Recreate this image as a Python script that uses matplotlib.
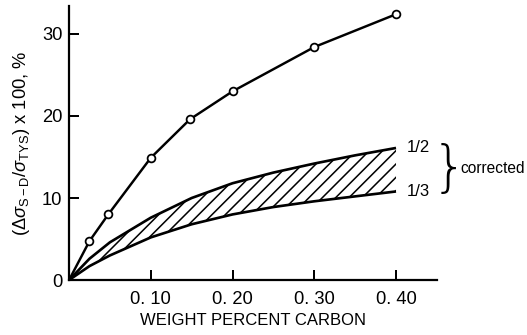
import matplotlib
matplotlib.use("Agg")
import matplotlib.pyplot as plt

carbon_pts = [0.0, 0.025, 0.048, 0.10, 0.148, 0.20, 0.30, 0.40]
uncorrected = [0.0, 4.75, 8.0, 14.9, 19.6, 23.0, 28.4, 32.4]

band_x = [0.0, 0.025, 0.05, 0.10, 0.15, 0.20, 0.25, 0.30, 0.35, 0.40]
half = [0.0, 2.6, 4.6, 7.6, 10.0, 11.8, 13.1, 14.2, 15.2, 16.1]
third = [0.0, 1.7, 3.0, 5.2, 6.8, 8.0, 8.9, 9.6, 10.2, 10.8]

xticks = [0.10, 0.20, 0.30, 0.40]
xticklabels = ["0. 10", "0. 20", "0. 30", "0. 40"]
yticks = [0, 10, 20, 30]

plt.rcParams['font.family'] = ['Liberation Sans', 'DejaVu Sans']
plt.rcParams['hatch.linewidth'] = 1.4
plt.rcParams['mathtext.fontset'] = 'custom'
plt.rcParams['mathtext.rm'] = 'Liberation Sans'
plt.rcParams['mathtext.it'] = 'Liberation Sans:italic'

dpi = 80
fig = plt.figure(figsize=(527 / dpi, 335 / dpi), dpi=dpi)
ax = fig.add_axes([0.131, 0.164, 0.698, 0.818])

ax.fill_between(band_x, third, half, facecolor='white', edgecolor='black',
                hatch='//', linewidth=0)
ax.plot(band_x, half, color='black', lw=2.4, solid_capstyle='butt')
ax.plot(band_x, third, color='black', lw=2.4, solid_capstyle='butt')
ax.plot(carbon_pts, uncorrected, color='black', lw=2.2)
ax.plot(carbon_pts[1:], uncorrected[1:], 'o', ms=7, mfc='white', mec='black',
        mew=1.6, lw=0)

ax.set_xlim(0, 0.45)
ax.set_ylim(0, 33.4)
ax.spines['top'].set_visible(False)
ax.spines['right'].set_visible(False)
for s in ('left', 'bottom'):
    ax.spines[s].set_linewidth(2.0)

ax.set_xticks(xticks)
ax.set_xticklabels(xticklabels)
ax.set_yticks(yticks)
ax.tick_params(direction='in', length=9, width=1.8, labelsize=16.5, pad=10)
ax.tick_params(axis='y', pad=6)

ax.set_xlabel("WEIGHT PERCENT CARBON", fontsize=15, labelpad=4)
ax.set_ylabel(r"$(\Delta\sigma_{\mathrm{S-D}}/\sigma_{\mathrm{TYS}})$ x 100, %",
              fontsize=16.5, labelpad=9)

ax.text(0.413, 16.1, "1/2", fontsize=15, va='center', ha='left', clip_on=False)
ax.text(0.413, 10.8, "1/3", fontsize=15, va='center', ha='left', clip_on=False)
ax.text(0.465, 13.4, "}", fontsize=50, va='center', ha='center',
        family='DejaVu Sans', fontweight='light', clip_on=False)
ax.text(0.479, 13.6, "corrected", fontsize=14, va='center', ha='left',
        clip_on=False)

fig.savefig("out.png", dpi=dpi)
